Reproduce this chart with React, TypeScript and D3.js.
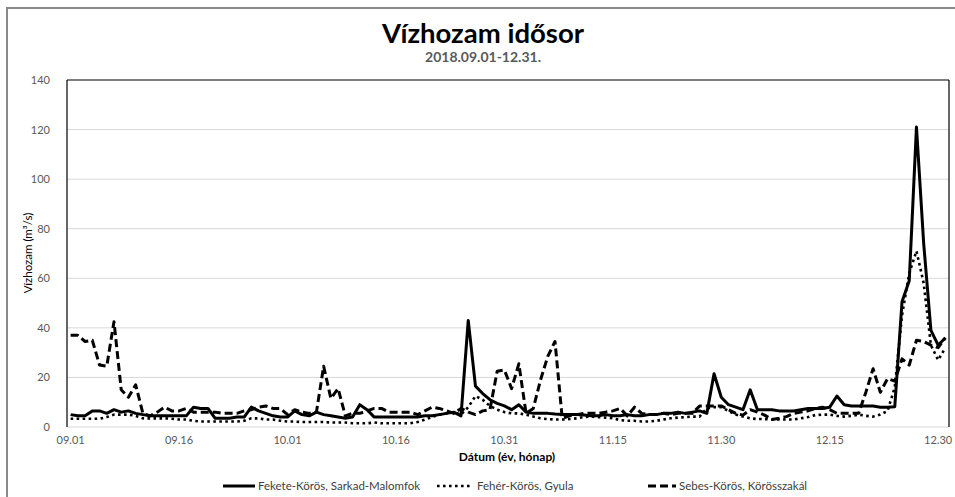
import React from "react";
import * as d3 from "d3";

const tickLabels = ["09.01", "09.16", "10.01", "10.16", "10.31", "11.15", "11.30", "12.15", "12.30"];
const yTicks = [0, 20, 40, 60, 80, 100, 120, 140];
const seriesNames = ["Fekete-Körös, Sarkad-Malomfok", "Fehér-Körös, Gyula", "Sebes-Körös, Körösszakál"];

// daily values 2018.09.01 - 2018.12.31 (122 days)
const fekete = [
  5, 4.5, 4.5, 6.5, 6.5, 5.5, 7, 6, 6.5, 5.5,
  5, 4.5, 4.5, 4.5, 4.5, 4.5, 4.5, 8, 7.5, 7.5,
  3.5, 3.5, 3.5, 4, 4, 8, 6.5, 5.5, 4.5, 4,
  4, 6.5, 5, 4.5, 6, 5, 4.5, 4, 3.5, 4,
  9, 7, 4, 4, 4, 4, 4, 4, 4, 4.5,
  4.5, 5, 5.5, 6, 4.5, 43, 16.5, 13.5, 11, 9.5,
  8.5, 7, 9, 6, 5.5, 5.5, 5.5, 5.2, 5, 5,
  5, 4.8, 4.5, 4.5, 5, 4.5, 4.5, 5, 4.5, 4.5,
  5, 5, 5.5, 5.5, 6, 5.5, 6, 6.5, 5.5, 21.5,
  12, 9, 8, 7, 15, 7, 7, 7, 6.5, 6.5,
  6.5, 7, 7.5, 7.5, 7.5, 8, 12.5, 9, 8.5, 8.5,
  8.5, 8.5, 8, 8, 8.2, 50.5, 59, 121, 74, 39,
  33, 36,
];
const feher = [
  3.3, 3.3, 3.3, 3.3, 3.3, 4, 5, 5, 5, 4.5,
  3.5, 3.5, 3.5, 3.5, 3.3, 3, 3, 2.5, 2.2, 2.2,
  2.2, 2.2, 2.2, 2.2, 2.5, 3.5, 3.5, 3, 3, 2.5,
  2.2, 2.2, 2, 2, 2, 2, 1.8, 1.8, 1.8, 1.5,
  1.5, 1.5, 1.8, 1.5, 1.5, 1.5, 1.5, 1.5, 2, 3,
  4, 5, 5.5, 6, 5, 8, 12.5, 11, 8.5, 7,
  6, 5.5, 5.5, 5, 4.2, 3.5, 3.2, 3, 3, 3.2,
  3.5, 4, 4.2, 4, 3.8, 3.5, 2.8, 2.5, 2.5, 2.2,
  2.2, 2.5, 3, 3.5, 3.8, 4, 4.2, 4.2, 7.5, 8,
  8, 6.5, 5, 4.2, 3.5, 3.2, 3.2, 3, 3, 3,
  3, 3.5, 4, 4.8, 5, 5, 4.5, 4.2, 4.5, 5,
  4.5, 4.2, 5, 6.5, 16, 45, 62, 71, 58, 33,
  27, 32,
];
const sebes = [
  37, 37, 34.5, 35, 25, 24.5, 42.5, 15, 12, 17,
  5.5, 4.5, 6, 8, 6.5, 6.5, 7.5, 6, 6, 6,
  6, 5.5, 5.5, 5.5, 6.5, 7, 8, 8.5, 7.5, 7.5,
  5, 7, 6, 5.5, 6, 24.5, 11.5, 15.5, 4.5, 5.5,
  5.5, 6.5, 7.5, 7.5, 6, 6, 6, 6, 5, 6.5,
  8, 7.5, 6.5, 5.5, 7.5, 6, 5, 6.5, 7, 22.5,
  23, 15.5, 25.5, 5.5, 7.5, 19, 28.5, 34.5, 3.5, 4.5,
  5, 5.5, 5.5, 5.5, 6, 6.5, 7.5, 4.5, 8, 5.5,
  5, 5, 5.5, 5, 5.5, 5.5, 5.5, 8.5, 8.5, 8.5,
  8.5, 7, 5.5, 4.8, 7, 6, 4.8, 3, 3.5, 4.2,
  5.5, 6, 6.5, 7.5, 8, 7, 5.5, 5.5, 5.5, 5.5,
  14, 23.5, 14, 19.5, 18.5, 27.5, 25, 35, 34.5, 33,
  32, 36,
];

const W = 955;
const H = 497;
const M = { left: 67, right: 949, top: 80, bottom: 427 };
const FONT = "Lato, 'Open Sans', 'Liberation Sans', sans-serif";

const styles = [
  { width: 3, dash: "none", cap: "butt" },
  { width: 2.6, dash: "2.6 3.4", cap: "butt" },
  { width: 3, dash: "8 4", cap: "butt" },
];

export default function App() {
  const n = fekete.length;
  const x = d3.scaleLinear().domain([-0.5, n - 0.5]).range([M.left, M.right]);
  const y = d3.scaleLinear().domain([0, 140]).range([M.bottom, M.top]);
  const line = d3
    .line<number>()
    .x((_, i) => x(i))
    .y((d) => y(d));
  const all = [fekete, feher, sebes];

  const legendItems = [
    { sx: 223, tx: 258 },
    { sx: 437, tx: 477 },
    { sx: 648, tx: 679 },
  ];
  const swatchLen = [32, 35, 28];
  const legendY = 486;

  return (
    <div style={{ position: "absolute", left: 0, top: 0 }}>
      <svg width={W} height={H} style={{ display: "block", background: "#fff" }}>
        <rect x={7} y={8} width={960} height={520} fill="#fff" stroke="#8a8a8a" strokeWidth={2} />
        <text x={483} y={43} textAnchor="middle" fontFamily={FONT} fontWeight={700} fontSize={27.5} fill="#000">
          Vízhozam idősor
        </text>
        <text x={483} y={62} textAnchor="middle" fontFamily={FONT} fontWeight={700} fontSize={14} fill="#595959">
          2018.09.01-12.31.
        </text>

        {/* gridlines */}
        {yTicks.filter((t) => t > 0 && t < 140).map((t) => (
          <line key={t} x1={M.left} x2={M.right} y1={y(t)} y2={y(t)} stroke="#d9d9d9" strokeWidth={1} />
        ))}
        {/* plot border */}
        <line x1={M.left} x2={M.right} y1={M.bottom} y2={M.bottom} stroke="#d9d9d9" strokeWidth={1.2} />
        <line x1={M.left} x2={M.right} y1={M.top} y2={M.top} stroke="#000" strokeWidth={1.2} />
        <line x1={M.right} x2={M.right} y1={M.top} y2={M.bottom} stroke="#000" strokeWidth={1.2} />
        <line x1={M.left} x2={M.left} y1={M.top} y2={M.bottom} stroke="#000" strokeWidth={1.2} />

        {/* y ticks */}
        {yTicks.map((t) => (
          <text key={t} x={50} y={y(t) + 4} textAnchor="end" fontFamily={FONT} fontSize={11} fill="#595959">
            {t}
          </text>
        ))}
        {/* x ticks */}
        {tickLabels.map((lab, i) => (
          <text key={lab} x={x(i * 15)} y={444} textAnchor="middle" fontFamily={FONT} fontSize={11} fill="#595959">
            {lab}
          </text>
        ))}

        {/* series */}
        {all.map((s, k) => (
          <path
            key={k}
            d={line(s) || ""}
            fill="none"
            stroke="#000"
            strokeWidth={styles[k].width}
            strokeDasharray={styles[k].dash}
            strokeLinecap={styles[k].cap as any}
            strokeLinejoin="round"
          />
        ))}

        {/* axis titles */}
        <text x={507} y={461} textAnchor="middle" fontFamily={FONT} fontWeight={700} fontSize={12} fill="#000">
          Dátum (év, hónap)
        </text>
        <text
          transform={`translate(32,253) rotate(-90)`}
          textAnchor="middle"
          fontFamily={FONT}
          fontSize={11.5}
          fill="#000"
        >
          Vízhozam (m³/s)
        </text>

        {/* legend */}
        {seriesNames.map((name, k) => (
          <g key={name}>
            <line
              x1={legendItems[k].sx}
              x2={legendItems[k].sx + swatchLen[k]}
              y1={legendY}
              y2={legendY}
              stroke="#000"
              strokeWidth={styles[k].width}
              strokeDasharray={styles[k].dash}
            />
            <text x={legendItems[k].tx} y={legendY + 4} fontFamily={FONT} fontSize={11.5} fill="#404040">
              {name}
            </text>
          </g>
        ))}
      </svg>
    </div>
  );
}
